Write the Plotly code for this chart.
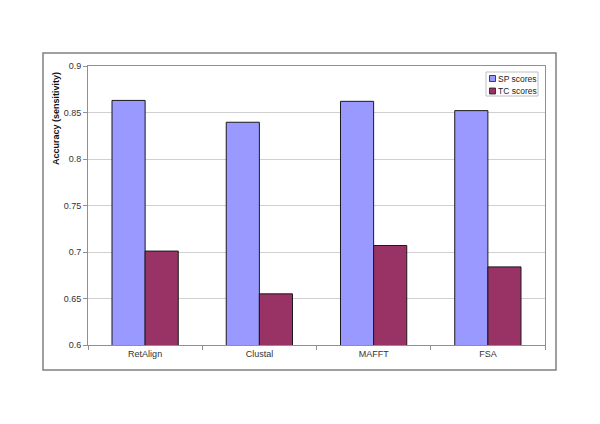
import plotly.graph_objects as go

categories = ["RetAlign", "Clustal", "MAFFT", "FSA"]
sp_scores = [0.863, 0.8395, 0.862, 0.852]
tc_scores = [0.701, 0.655, 0.707, 0.684]
y_ticks = [0.6, 0.65, 0.7, 0.75, 0.8, 0.85, 0.9]
series_names = ["SP scores", "TC scores"]
series_colors = ["#9999FF", "#993366"]

L, R, T, B = 88, 55, 66, 79
W, H = 600, 424
pw = W - L - R
ph = H - T - B

def px_x(x):
    return (x - L) / pw

def px_y(y):
    return (H - B - y) / ph

fig = go.Figure()
for name, vals, col in zip(series_names, [sp_scores, tc_scores], series_colors):
    fig.add_trace(go.Bar(name=name, x=categories, y=vals,
                         marker=dict(color=col, line=dict(color="#1a1a1a", width=1))))

fig.update_layout(
    width=W, height=H,
    margin=dict(l=L, r=R, t=T, b=B),
    paper_bgcolor="white", plot_bgcolor="white",
    barmode="group", bargap=0.42, bargroupgap=0,
    font=dict(family="Liberation Sans, Arial", size=9, color="#333333"),
    showlegend=False,
)
fig.update_xaxes(
    showline=True, linecolor="#909090", linewidth=1, mirror=True,
    ticks="outside", ticklen=4, tickcolor="#909090", tickson="boundaries",
    showgrid=False,
)
fig.update_yaxes(
    range=[0.6, 0.9], tickvals=y_ticks, ticktext=[f"{v:g}" for v in y_ticks],
    showline=True, linecolor="#909090", linewidth=1, mirror=True,
    ticks="outside", ticklen=4, tickcolor="#909090",
    showgrid=True, gridcolor="#d0d0d0", gridwidth=1, zeroline=False,
)
fig.add_annotation(text="<b>Accuracy (sensitivity)</b>", xref="paper", yref="paper",
                   x=px_x(56), y=px_y(119), xanchor="center", yanchor="middle",
                   textangle=-90, showarrow=False,
                   font=dict(size=9, color="#111111"))
# outer chart border
fig.add_shape(type="rect", xref="paper", yref="paper",
              x0=px_x(43), x1=px_x(556), y0=px_y(370), y1=px_y(53),
              line=dict(color="#808080", width=1.5), layer="below")
# legend box
fig.add_shape(type="rect", xref="paper", yref="paper",
              x0=px_x(486), x1=px_x(538), y0=px_y(96), y1=px_y(72),
              line=dict(color="#c0c0c0", width=1), fillcolor="white", layer="above")
for i, (name, col) in enumerate(zip(series_names, series_colors)):
    yc = 78.5 + i * 12.5
    fig.add_shape(type="rect", xref="paper", yref="paper",
                  x0=px_x(489.5), x1=px_x(495.5), y0=px_y(yc + 3), y1=px_y(yc - 3),
                  line=dict(color="#1a1a1a", width=0.8), fillcolor=col, layer="above")
    fig.add_annotation(text=name, xref="paper", yref="paper",
                       x=px_x(496), y=px_y(yc), xanchor="left", yanchor="middle",
                       showarrow=False, font=dict(size=8.5, color="#222222"))

fig.write_html("out.html", config={"displayModeBar": False},
               post_script="document.body.style.margin='0';document.body.style.padding='0';")
